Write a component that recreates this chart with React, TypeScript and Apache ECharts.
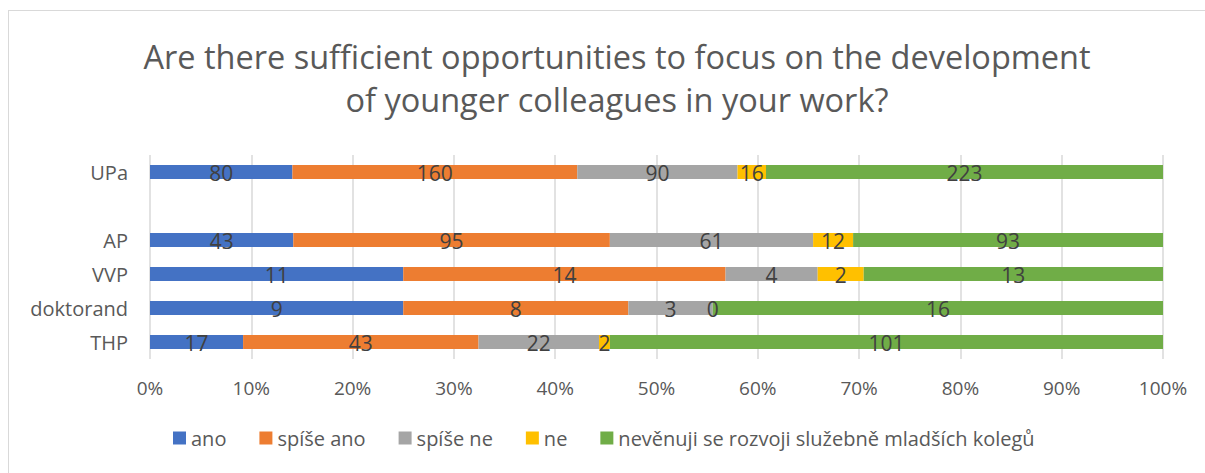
import React, { useEffect, useRef } from "react";
import * as echarts from "echarts";

const categories = ["UPa", "", "AP", "VVP", "doktorand", "THP"];
const seriesNames = ["ano", "spíše ano", "spíše ne", "ne", "nevěnuji se rozvoji služebně mladších kolegů"];
const ano = [80, null, 43, 11, 9, 17];
const spiseAno = [160, null, 95, 14, 8, 43];
const spiseNe = [90, null, 61, 4, 3, 22];
const ne = [16, null, 12, 2, 0, 2];
const nevenuji = [223, null, 93, 13, 16, 101];
const colors = ["#4472C4", "#ED7D31", "#A5A5A5", "#FFC000", "#70AD47"];
const xTicks = [0, 10, 20, 30, 40, 50, 60, 70, 80, 90, 100];

const FONT = "'Open Sans', sans-serif";

export default function App() {
  const ref = useRef<HTMLDivElement>(null);
  useEffect(() => {
    if (!ref.current) return;
    const chart = echarts.init(ref.current, null, { renderer: "svg" });
    const all = [ano, spiseAno, spiseNe, ne, nevenuji];
    const totals = categories.map((_, i) =>
      all.reduce((s, arr) => s + (arr[i] ?? 0), 0)
    );
    const series = all.map((arr, si) => ({
      name: seriesNames[si],
      type: "bar",
      stack: "total",
      barWidth: 14,
      itemStyle: { color: colors[si] },
      label: {
        show: true,
        position: "inside",
        color: "#404040",
        fontSize: 21,
        fontFamily: FONT,
        offset: [0, 1],
        formatter: (p: any) => (p.data && p.data.raw != null ? String(p.data.raw) : ""),
      },
      data: arr.map((v, i) =>
        v == null ? { value: null } : { value: (v / totals[i]) * 100, raw: v }
      ),
    }));
    chart.setOption({
      animation: false,
      title: {
        text: "Are there sufficient opportunities to focus on the development\nof younger colleagues in your work?",
        left: 612,
        top: 30,
        textAlign: "center",
        textStyle: {
          fontFamily: FONT,
          fontWeight: "normal",
          fontSize: 32.5,
          color: "#595959",
          lineHeight: 43,
        },
      },
      legend: {
        bottom: 20,
        left: 168,
        itemWidth: 13,
        itemHeight: 13,
        itemGap: 33,
        icon: "rect",
        textStyle: { fontFamily: FONT, fontSize: 20, color: "#595959" },
        data: seriesNames,
      },
      grid: { left: 150, right: 42, top: 155, bottom: 114, containLabel: false },
      xAxis: {
        type: "value",
        min: xTicks[0],
        max: xTicks[xTicks.length - 1],
        interval: 10,
        axisLine: { show: false },
        axisTick: { show: false },
        splitLine: { lineStyle: { color: "#D9D9D9", width: 1.5 } },
        axisLabel: {
          formatter: "{value}%",
          fontFamily: FONT,
          fontSize: 19,
          color: "#595959",
          margin: 19,
        },
      },
      yAxis: {
        type: "category",
        inverse: true,
        data: categories,
        axisLine: { show: false },
        axisTick: { show: false },
        axisLabel: { fontFamily: FONT, fontSize: 20, color: "#595959", margin: 22 },
      },
      series,
    });
    return () => chart.dispose();
  }, []);
  return (
    <div style={{ position: "fixed", left: 0, top: 0, width: 1205, height: 473, overflow: "hidden", background: "#fff" }}>
      <div
        style={{
          position: "absolute",
          left: 8,
          top: 10,
          width: 1208,
          height: 470,
          border: "1px solid #D9D9D9",
          boxSizing: "border-box",
        }}
      />
      <div ref={ref} style={{ position: "absolute", left: 0, top: 0, width: 1205, height: 473 }} />
    </div>
  );
}
